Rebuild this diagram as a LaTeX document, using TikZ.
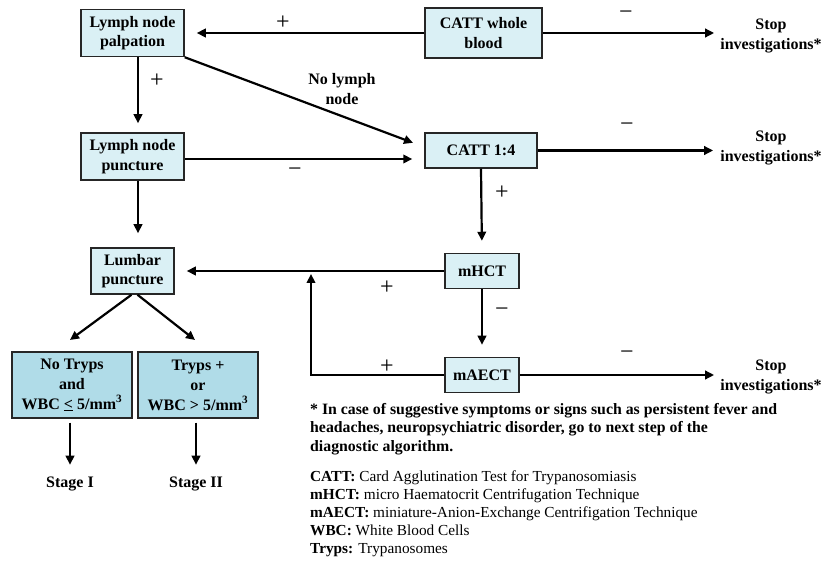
\documentclass[tikz,border=0pt]{standalone}
\usepackage{fontspec}
\setmainfont{Liberation Serif}
\usetikzlibrary{arrows.meta}

\definecolor{boxlight}{RGB}{218,240,245}
\definecolor{boxdark}{RGB}{176,220,232}
\newcommand{\chartfont}{\fontsize{16}{19.5}\selectfont}
\newcommand{\legendfont}{\fontsize{15.3}{18}\selectfont}

\tikzset{
  testbox/.style={draw=black!85, line width=1.5pt, fill=boxlight,
    font=\chartfont\bfseries, align=center, inner sep=1pt},
  stagebox/.style={testbox, fill=boxdark, minimum width=120pt, minimum height=66pt,
    font=\fontsize{16}{20}\selectfont\bfseries},
  outcome/.style={font=\chartfont\bfseries, align=center, inner sep=0pt},
  sign/.style={font=\fontsize{24}{24}\selectfont, inner sep=0pt},
  flow/.style={line width=2.2pt, -{Triangle[length=9pt,width=8.5pt]}, shorten >=12pt},
}

\begin{document}
\begin{tikzpicture}[x=1pt, y=-1pt]
            \def \xleft      {132.5}
            \def \xmid       {482}
            \def \xstop      {771}
            \def \xstagea    {72}
            \def \xstageb    {198}
            \def \xfeed      {311}
            \def \xnote      {310}

            \def \ytop       {33}
            \def \ypunct     {156.5}
            \def \ycatt      {150.5}
            \def \ylumbar    {271}
            \def \ymhct      {271}
            \def \ymaect     {375}
            \def \ystage     {385}
            \def \yend       {484}

            \useasboundingbox (0,0) rectangle (823,561);
% tests
            \node [testbox, minimum width=103pt, minimum height=47pt] (palp) at (\xleft, \ytop) {Lymph node\\palpation};
            \node [testbox, minimum width=117pt, minimum height=50pt] (cattwb) at (483.5, \ytop) {CATT whole\\blood};
            \node [testbox, minimum width=103pt, minimum height=47pt] (punct) at (\xleft, \ypunct) {Lymph node\\puncture};
            \node [testbox, minimum width=112pt, minimum height=35pt] (catt14) at (481, \ycatt) {CATT 1:4};
            \node [testbox, minimum width=83pt, minimum height=46pt] (lumbar) at (\xleft, \ylumbar) {Lumbar\\puncture};
            \node [testbox, minimum width=74pt, minimum height=35pt] (mhct) at (\xmid, \ymhct) {mHCT};
            \node [testbox, minimum width=74pt, minimum height=35pt] (maect) at (\xmid, \ymaect) {mAECT};

            \node [stagebox] (notryps) at (\xstagea, \ystage) {No Tryps\\and\\WBC \underline{<} 5/mm\textsuperscript{3}};
            \node [stagebox] (tryps) at (\xstageb, \ystage) {Tryps +\\or\\WBC > 5/mm\textsuperscript{3}};

% outcomes
            \node [outcome] (stopa) at (\xstop, 36) {Stop\\investigations*};
            \node [outcome] (stopb) at (\xstop, 148) {Stop\\investigations*};
            \node [outcome] (stopc) at (\xstop, 377) {Stop\\investigations*};
            \node [outcome] (stagei) at (70, \yend) {Stage I};
            \node [outcome] (stageii) at (196, \yend) {Stage II};

% arrows
            \draw [flow] (cattwb.west) -- (cattwb.west -| palp.east);
            \draw [flow, shorten >=6pt] (cattwb.east) -- (cattwb.east -| stopa.west);
            \draw [flow, shorten >=9pt] ([xshift=5.5pt]palp.south) -- ([xshift=5.5pt]punct.north);
            \draw [flow] (palp.south east) -- ([yshift=3.5pt]catt14.west);
            \draw [flow] ([yshift=-2.5pt]punct.east) -- ([yshift=-2.5pt]punct.east -| catt14.west);
            \draw [flow, shorten >=7pt] (catt14.east) -- (catt14.east -| stopb.west);
            \draw [flow, shorten >=14pt] ([xshift=5.5pt]punct.south) -- ([xshift=5.5pt]lumbar.north);
            \draw [flow] (catt14.south) -- (mhct.north);
            \draw [flow] (mhct.west) -- (mhct.west -| lumbar.east);
            \draw [flow] (mhct.south) -- (maect.north);
            \draw [flow, shorten >=6pt] (maect.east) -- (maect.east -| stopc.west);

            \coordinate (feedcorner) at (\xfeed, \ymaect);
            \draw [flow, shorten >=3pt] (maect.west) -- (feedcorner) -- (feedcorner |- mhct.west);

            \coordinate (lpleft) at (70, 340);
            \coordinate (lpright) at (195, 340);
            \draw [flow, shorten >=0pt] ([xshift=-1pt]lumbar.south) -- (lpleft);
            \draw [flow, shorten >=0pt] ([xshift=5pt]lumbar.south) -- (lpright);

            \draw [flow, shorten <=4pt] (stagei.north |- notryps.south) -- (stagei.north);
            \draw [flow, shorten <=4pt] (stageii.north |- tryps.south) -- (stageii.north);

% signs
            \node [sign] (pluspalp) at (283, 23) {+};
            \node [sign] (minuswb) at (626, 15) {−};
            \node [sign] (pluspunct) at (157, 81) {+};
            \node [outcome] (nolymph) at (342, 89) {No lymph\\node};
            \node [sign] (minuspunct) at (295, 172) {−};
            \node [sign] (minuscatt) at (627, 127) {−};
            \node [sign] (pluscatt) at (502, 193) {+};
            \node [sign] (plusmhct) at (387, 288) {+};
            \node [sign] (minusmhct) at (502, 312) {−};
            \node [sign] (plusmaect) at (387, 367) {+};
            \node [sign] (minusmaect) at (627, 355) {−};

% notes
            \node [anchor=north west, align=left, inner sep=0pt, font=\fontsize{15.8}{18.5}\selectfont\bfseries] (footnote) at (\xnote, 403)
                {* In case of suggestive symptoms or signs such as persistent fever and\\
                 headaches, neuropsychiatric disorder, go to next step of the\\
                 diagnostic algorithm.};
            \node [anchor=north west, align=left, inner sep=0pt, font=\legendfont] (legend) at (\xnote, 470.5)
                {\textbf{CATT:} Card Agglutination Test for Trypanosomiasis\\
                 \textbf{mHCT:} micro Haematocrit Centrifugation Technique\\
                 \textbf{mAECT:} miniature-Anion-Exchange Centrifigation Technique\\
                 \textbf{WBC:} White Blood Cells\\
                 \textbf{Tryps:} Trypanosomes};
\end{tikzpicture}
\end{document}
